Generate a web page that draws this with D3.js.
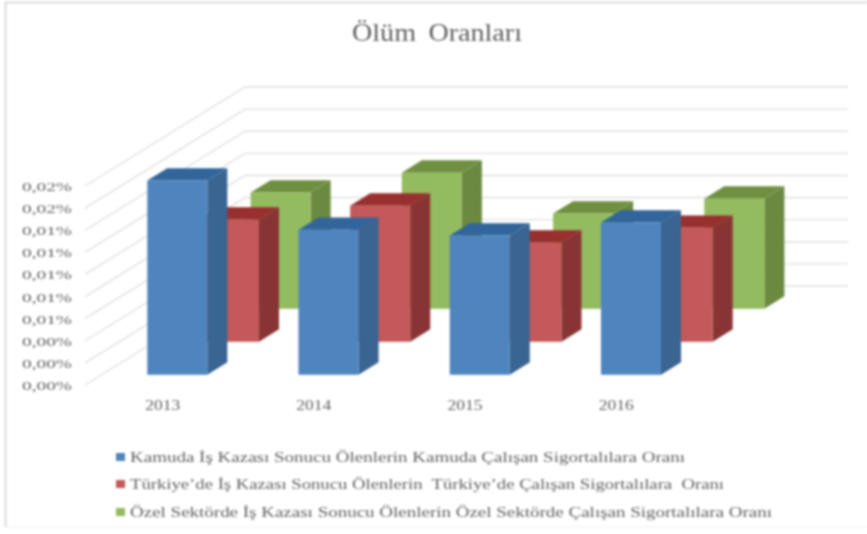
<!DOCTYPE html>
<html>
<head>
<meta charset="utf-8">
<script src="https://cdn.jsdelivr.net/npm/d3@7/dist/d3.min.js"></script>
<style>
  html, body { margin: 0; padding: 0; background: #fff; }
  svg { display: block; filter: blur(0.8px); }
  text { font-family: "Liberation Serif", serif; fill: #616161; }
</style>
</head>
<body>
<svg id="chart" width="867" height="534"></svg>
<script>
const title = "Ölüm Oranları";
const years = ["2013", "2014", "2015", "2016"];
const seriesNames = [
  "Kamuda İş Kazası Sonucu Ölenlerin Kamuda Çalışan Sigortalılara Oranı",
  "Türkiye’de İş Kazası Sonucu Ölenlerin  Türkiye’de Çalışan Sigortalılara  Oranı",
  "Özel Sektörde İş Kazası Sonucu Ölenlerin Özel Sektörde Çalışan Sigortalılara Oranı"
];
const kamu = [0.01756, 0.0131, 0.01258, 0.01376];
const turkiye = [0.01104, 0.0123, 0.00896, 0.0103];
const ozel = [0.0105, 0.0123, 0.0086, 0.00995];
const tickValues = [0, 0.002, 0.004, 0.006, 0.008, 0.01, 0.012, 0.014, 0.016, 0.018];
const seriesValues = [kamu, turkiye, ozel];

const faceColors = ["#4f85bf", "#c4585a", "#93bb5f"];
const sideColors = ["#3a6491", "#883434", "#6b8a40"];
const topColors = ["#31659b", "#98302f", "#6f9040"];

const svg = d3.select("#chart");

// frame of the pasted picture
svg.append("path")
  .attr("d", "M5.5,527V2.5H867")
  .attr("fill", "none")
  .attr("stroke", "#d9d9d9")
  .attr("stroke-width", 2);
svg.append("line")
  .attr("x1", 5).attr("x2", 867).attr("y1", 527).attr("y2", 527)
  .attr("stroke", "#efefef");

// scales: x across the floor, y up the wall, depth into the chart
const xScale = d3.scaleBand().domain(years).range([85, 691]).paddingInner(0.603).paddingOuter(0.305);
const yScale = d3.scaleLinear().domain([0, 0.018]).range([385, 186]);
const depthScale = d3.scaleBand().domain(d3.range(3)).range([0, 1]).paddingInner(0.625).paddingOuter(0.3125);
const depthX = d3.scaleLinear().domain([0, 1]).range([0, 160]);
const barDepthX = d3.scaleLinear().domain([0, 1]).range([0, 155]);
const depthY = d3.scaleLinear().domain([0, 1]).range([0, -99]);

// x position, value and depth to a point on the page
function project(x, value, depth, dx) {
  return [x + (dx || depthX)(depth), yScale(value) + depthY(depth)];
}

svg.append("text")
  .attr("x", 437).attr("y", 41)
  .attr("text-anchor", "middle")
  .attr("font-size", 26)
  .attr("word-spacing", 5)
  .attr("textLength", 170)
  .attr("lengthAdjust", "spacingAndGlyphs")
  .text(title);

// walls
const grid = svg.append("g")
  .attr("fill", "none")
  .attr("stroke", "#e0e0e0")
  .attr("stroke-width", 1.4);
grid.selectAll("path")
  .data(tickValues)
  .enter().append("path")
  .attr("d", d => d3.line()([
    project(85, d, 0),
    project(85, d, 1),
    project(688, d, 1)
  ]));

svg.append("g")
  .selectAll("text")
  .data(tickValues)
  .enter().append("text")
  .attr("x", 22)
  .attr("y", d => yScale(d) + 5)
  .attr("font-size", 13.5)
  .attr("textLength", 50)
  .attr("lengthAdjust", "spacingAndGlyphs")
  .text(d => d.toFixed(2).replace(".", ",") + "%");

// bars, back row first
const barDepth = depthScale.bandwidth();
const poly = pts => d3.line()(pts) + "Z";

[2, 1, 0].forEach(s => {
  const row = svg.append("g").attr("class", "series-" + s);
  const bars = row.selectAll("g")
    .data(seriesValues[s].map((v, i) => ({ year: years[i], value: v })))
    .enter().append("g");
  const z0 = depthScale(s);
  const z1 = z0 + barDepth;
  const x0 = d => xScale(d.year);
  const x1 = d => xScale(d.year) + xScale.bandwidth();
  // front face sits on the row position, the back edge uses the wall's slope
  const front = (x, v) => project(x, v, z0, barDepthX);
  const back = (x, v) => {
    const p = project(x, v, z1, barDepthX);
    return [front(x, v)[0] + depthX(barDepth), p[1]];
  };

  bars.append("path")
    .attr("fill", sideColors[s])
    .attr("d", d => poly([
      front(x1(d), 0), back(x1(d), 0),
      back(x1(d), d.value), front(x1(d), d.value)
    ]));
  bars.append("path")
    .attr("fill", topColors[s])
    .attr("d", d => poly([
      front(x0(d), d.value), front(x1(d), d.value),
      back(x1(d), d.value), back(x0(d), d.value)
    ]));
  bars.append("path")
    .attr("fill", faceColors[s])
    .attr("d", d => poly([
      front(x0(d), 0), front(x1(d), 0),
      front(x1(d), d.value), front(x0(d), d.value)
    ]));
});

svg.append("g")
  .selectAll("text")
  .data(years)
  .enter().append("text")
  .attr("x", d => xScale(d) + xScale.bandwidth() / 2 + 1.5)
  .attr("y", 410)
  .attr("text-anchor", "middle")
  .attr("font-size", 14.5)
  .attr("textLength", 35)
  .attr("lengthAdjust", "spacingAndGlyphs")
  .text(d => d);

// legend
const legendY = [457, 484, 512];
const legendWidth = [555, 594, 642];
const legend = svg.append("g")
  .selectAll("g")
  .data(seriesNames)
  .enter().append("g")
  .attr("transform", (d, i) => "translate(116," + legendY[i] + ")");
legend.append("rect")
  .attr("x", 0).attr("y", -4)
  .attr("width", 9).attr("height", 8)
  .attr("fill", (d, i) => faceColors[i]);
legend.append("text")
  .attr("x", 14).attr("y", 5)
  .attr("font-size", 15)
  .attr("xml:space", "preserve")
  .style("white-space", "pre")
  .attr("textLength", (d, i) => legendWidth[i])
  .attr("lengthAdjust", "spacingAndGlyphs")
  .text(d => d);
</script>
</body>
</html>
